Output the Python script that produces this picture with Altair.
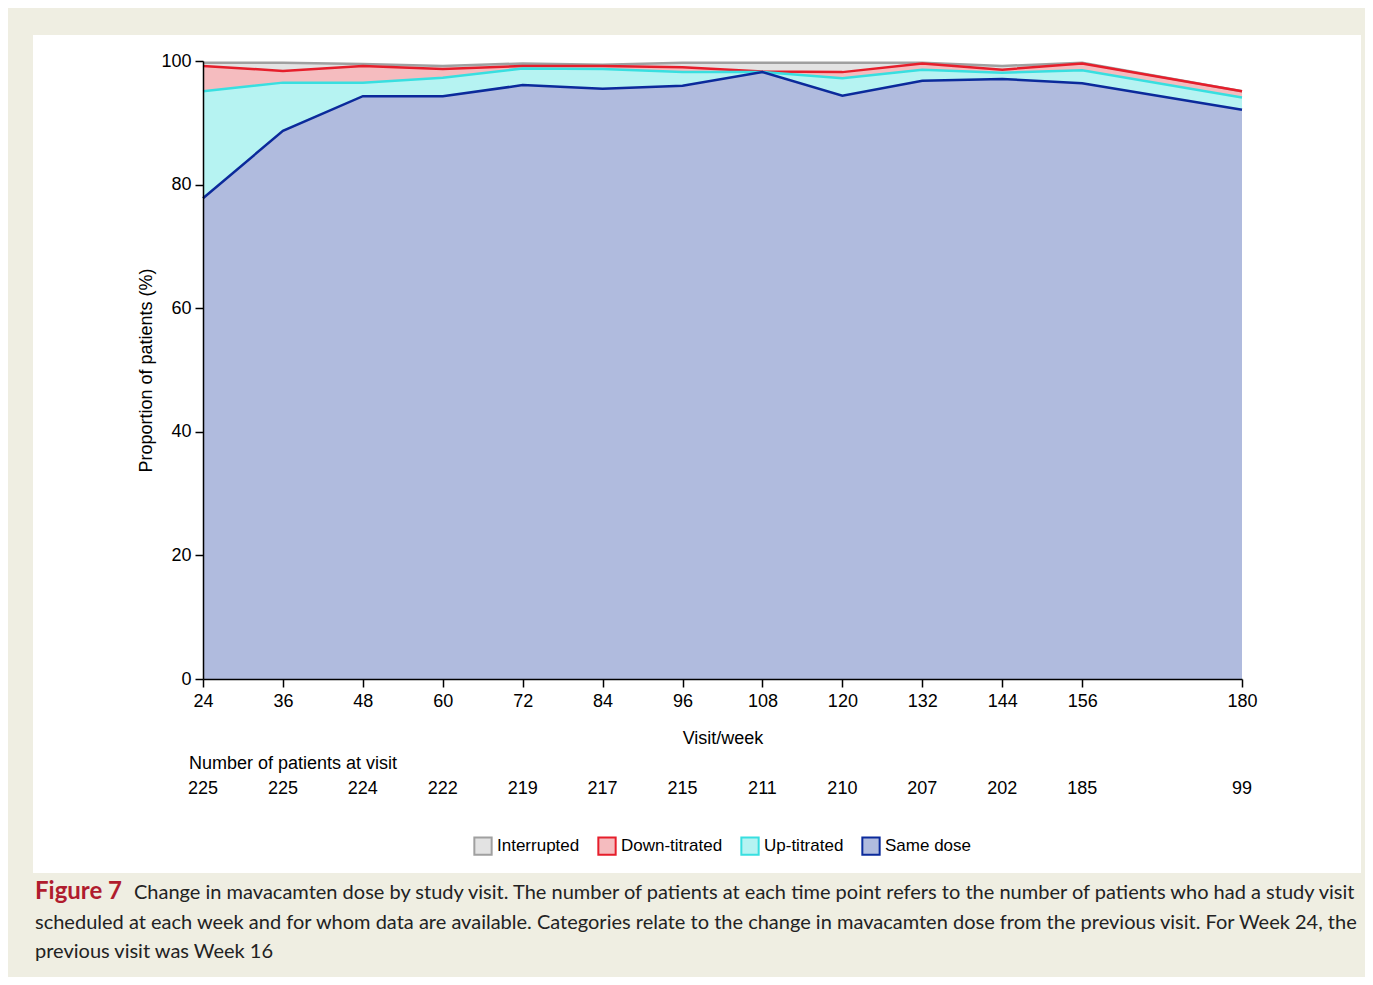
import altair as alt
import pandas as pd

weeks = [24, 36, 48, 60, 72, 84, 96, 108, 120, 132, 144, 156, 180]
n_patients = [225, 225, 224, 222, 219, 217, 215, 211, 210, 207, 202, 185, 99]
same_dose = [77.8, 88.7, 94.3, 94.3, 96.1, 95.5, 96.0, 98.2, 94.4, 96.8, 97.1, 96.4, 92.1]
up_titrated = [17.3, 7.8, 2.2, 3.0, 2.7, 3.2, 2.2, 0.0, 2.8, 1.8, 1.0, 2.1, 2.0]
down_titrated = [4.1, 1.9, 2.7, 1.4, 0.4, 0.5, 0.8, 0.1, 1.0, 1.0, 0.5, 1.1, 1.0]
interrupted = [0.5, 1.3, 0.3, 0.5, 0.4, 0.2, 0.7, 1.4, 1.5, 0.1, 0.6, 0.1, 0.0]

categories = ["Interrupted", "Down-titrated", "Up-titrated", "Same dose"]
fill_colors = ["#e3e3e3", "#f5bcbf", "#b6f3f2", "#b0bbde"]
stroke_colors = ["#a0a0a0", "#e61e2b", "#38dfe0", "#0b2a9b"]

caption_head = "Figure 7"
caption_lines = [
    "Change in mavacamten dose by study visit. The number of patients at each time point refers to the number of patients who had a study visit",
    "scheduled at each week and for whom data are available. Categories relate to the change in mavacamten dose from the previous visit. For Week 24, the",
    "previous visit was Week 16",
]

FONT = "Liberation Sans"
CAPFONT = "Lato"
FS = 18

# build stacked table (bottom -> top: Same dose, Up, Down, Interrupted)
series = {"Same dose": same_dose, "Up-titrated": up_titrated,
          "Down-titrated": down_titrated, "Interrupted": interrupted}
rows = []
base = [0.0] * len(weeks)
for cat in ["Same dose", "Up-titrated", "Down-titrated", "Interrupted"]:
    vals = series[cat]
    for i, w in enumerate(weeks):
        rows.append({"week": w, "category": cat, "bottom": base[i], "top": base[i] + vals[i]})
    base = [base[i] + vals[i] for i in range(len(weeks))]
df = pd.DataFrame(rows)

xscale = alt.Scale(domain=[24, 180], nice=False, zero=False)
yscale = alt.Scale(domain=[0, 100], nice=False)
legend = alt.Legend(title=None, orient="none", legendX=270, legendY=775, direction="horizontal",
                    symbolType="square", symbolSize=300, symbolStrokeWidth=2, symbolOpacity=1,
                    labelFont=FONT, labelFontSize=17, labelColor="black", labelOffset=4,
                    columnPadding=14)
fill_enc = alt.Fill("category:N", scale=alt.Scale(domain=categories, range=fill_colors), legend=legend)
stroke_enc = alt.Stroke("category:N", scale=alt.Scale(domain=categories, range=stroke_colors), legend=legend)

xaxis = alt.Axis(values=weeks, title="Visit/week", grid=False, labelFont=FONT, labelFontSize=FS,
                 labelColor="black", tickSize=8, tickColor="black", domainColor="black",
                 tickWidth=1.5, domainWidth=1.5, labelPadding=5, titleFont=FONT,
                 titleFontSize=FS, titleFontWeight="normal", titleColor="black",
                 titlePadding=19, labelFlush=False, zindex=2)
yaxis = alt.Axis(values=[0, 20, 40, 60, 80, 100], title="Proportion of patients (%)", grid=False,
                 labelFont=FONT, labelFontSize=FS, labelColor="black", tickSize=8,
                 tickColor="black", domainColor="black", tickWidth=1.5, domainWidth=1.5,
                 labelPadding=4, titleFont=FONT, titleFontSize=FS, titleFontWeight="normal",
                 titleColor="black", titlePadding=5, labelFlush=False, zindex=2)

panel = alt.Chart(pd.DataFrame({"a": [0]})).mark_rect(color="white").encode(
    x=alt.value(-170), x2=alt.value(1158), y=alt.value(-26), y2=alt.value(812))

area = alt.Chart(df).mark_area(opacity=1, strokeWidth=0).encode(
    x=alt.X("week:Q", scale=xscale, axis=xaxis),
    y=alt.Y("top:Q", scale=yscale, axis=yaxis),
    y2="bottom:Q",
    fill=fill_enc,
)

line_layers = []
for cat in categories:
    line_layers.append(
        alt.Chart(df).transform_filter(alt.datum.category == cat).mark_line(strokeWidth=2.5).encode(
            x=alt.X("week:Q", scale=xscale, axis=xaxis),
            y=alt.Y("top:Q", scale=yscale, axis=yaxis),
            stroke=stroke_enc,
        )
    )

ndf = pd.DataFrame({"week": weeks, "n": [str(v) for v in n_patients]})
ntext = alt.Chart(ndf).mark_text(font=FONT, fontSize=FS, color="black", baseline="middle").encode(
    x=alt.X("week:Q", scale=xscale, axis=xaxis), y=alt.value(728), text="n:N")

def label(text, x, y, **kw):
    return alt.Chart(pd.DataFrame({"t": [text]})).mark_text(align="left", **kw).encode(
        x=alt.value(x), y=alt.value(y), text="t:N")

nlabel = label("Number of patients at visit", -14, 703, font=FONT, fontSize=FS, color="black", baseline="middle")
cap_head = label(caption_head, -168, 838, font=CAPFONT, fontSize=24, fontWeight="bold",
                 color="#b01c2e", baseline="alphabetic")
cap_layers = [
    label(caption_lines[0], -69, 838, font=CAPFONT, fontSize=20, color="#222222", baseline="alphabetic"),
    label(caption_lines[1], -168, 868, font=CAPFONT, fontSize=20, color="#222222", baseline="alphabetic"),
    label(caption_lines[2], -168, 897, font=CAPFONT, fontSize=20, color="#222222", baseline="alphabetic"),
]

chart = alt.layer(panel, area, *line_layers, ntext, nlabel, cap_head, *cap_layers).properties(
    width=1039, height=618,
    padding={"left": 195, "top": 53, "right": 123, "bottom": 298},
    autosize=alt.AutoSizeParams(type="none"),
    background="#efeee2",
).configure_view(stroke=None)

chart.save("out.html", embed_options={"renderer": "svg", "actions": False})
